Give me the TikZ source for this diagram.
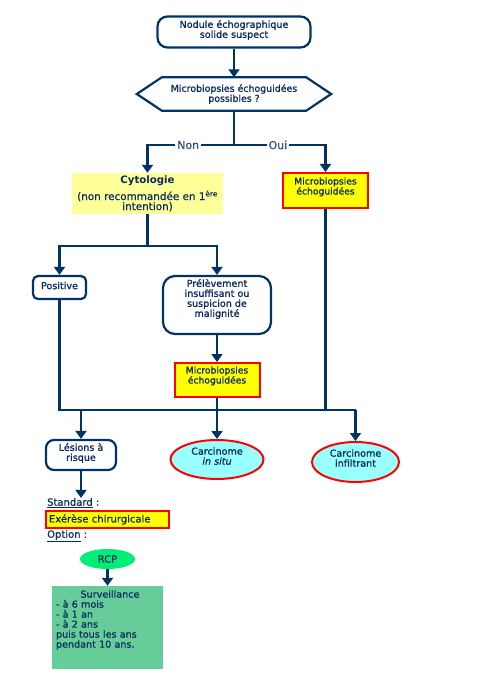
\documentclass[tikz,border=0pt]{standalone}
\usepackage{fontspec}
\setmainfont{DejaVu Sans}
\newfontfamily\bxfont[FakeBold=1.1]{DejaVu Sans}
\newfontfamily\rgfont[FakeBold=0.6]{DejaVu Sans}
\usetikzlibrary{arrows.meta,shapes.geometric,calc}
\definecolor{navy}{HTML}{003366}
\definecolor{txt}{HTML}{0B2B5C}
\definecolor{lblc}{HTML}{34507C}
\definecolor{lyel}{HTML}{FFFF99}
\definecolor{yel}{HTML}{FFFF00}
\definecolor{cyanf}{HTML}{99FFFF}
\definecolor{rcpc}{HTML}{00EE77}
\definecolor{survc}{HTML}{66CC99}
\newcommand\lowpad[1]{\rule[-#1]{0pt}{#1}}
\begin{document}
\begin{tikzpicture}[x=1pt,y=-1pt,
  every node/.style={text=txt, inner sep=0pt, align=center, font=\bxfont\fontsize{9.6}{10}\selectfont},
  rbox/.style={draw=navy, line width=2.2pt, rounded corners=#1},
  rbox/.default=8pt,
  redbox/.style={draw=red, line width=2pt, fill=yel},
  redell/.style={ellipse, draw=red, line width=2pt, fill=cyanf},
  conn/.style={draw=navy, line width=2.2pt},
  arr/.style={conn, -{Triangle[length=8pt,width=11pt]}},
  lbl/.style={fill=white, text=lblc, inner xsep=2pt, inner ysep=1pt, font=\rgfont\fontsize{11}{11}\selectfont},
  plain/.style={font=\rgfont\fontsize{10}{10}\selectfont}
]
\fill[white] (0,0) rectangle (500,700);
\useasboundingbox (0,0) rectangle (500,700);

% top
\node[rbox=10pt, minimum width=153pt, minimum height=31pt] (n1) at (234,32) {Nodule échographique\\solide suspect\lowpad{6pt}};
\node[minimum width=144pt, minimum height=33pt, font=\bxfont\fontsize{9.4}{10}\selectfont] (q) at (234,94) {Microbiopsies échoguidées\\possibles ?};
\draw[conn, line join=miter] (q.north west) -- (q.north east) -- ($(q.east)+(25,0)$) -- (q.south east) -- (q.south west) -- ($(q.west)+(-25,0)$) -- cycle;
\draw[arr] (n1.south) -- (q.north);

% level 2
\node[fill=lyel, minimum width=151pt, minimum height=41pt, font=\rgfont\fontsize{10.4}{10}\selectfont] (cyto) at (147.5,193.5)
  {{\normalfont\bfseries\fontsize{10.2}{11}\selectfont Cytologie}\\[4pt](non recommandée en 1\textsuperscript{ère}\\intention)};
\node[redbox, minimum width=85pt, minimum height=35pt, font=\bxfont\fontsize{9.2}{10}\selectfont] (mb1) at (325.5,190.5) {Microbiopsies\\échoguidées\lowpad{9pt}};

\coordinate (s1) at (234,145);
\draw[conn] (q.south) -- (s1);
\draw[arr] (s1) -- node[lbl, pos=0.53]{Non} (s1 -| cyto) -- (cyto.north);
\draw[arr] (s1) -- node[lbl, pos=0.48]{Oui} (s1 -| mb1) -- (mb1.north);

% level 3
\node[rbox=5pt, minimum width=53pt, minimum height=23pt] (pos) at (59.5,287.5) {Positive\lowpad{4pt}};
\node[rbox=12pt, minimum width=108pt, minimum height=58pt] (prel) at (217,305) {Prélèvement\\insuffisant ou\\suspicion de\\malignité\lowpad{14pt}};
\coordinate (s2) at (147.5,246);
\draw[conn] (cyto.south) -- (s2);
\draw[arr] (s2) -- (s2 -| pos) -- (pos.north);
\draw[arr] (s2) -- (s2 -| prel) -- (prel.north);

\node[redbox, minimum width=85pt, minimum height=34pt, font=\bxfont\fontsize{9.2}{10}\selectfont] (mb2) at (217,380) {Microbiopsies\\échoguidées\lowpad{10pt}};
\draw[arr] (prel.south) -- (mb2.north);

% level 4
\node[rbox=8pt, minimum width=70pt, minimum height=30pt] (les) at (81,455) {Lésions à\\risque\lowpad{6pt}};
\node[redell, minimum width=93pt, minimum height=39pt] (cis) at (217,459.5) {Carcinome\\\textit{in situ}\lowpad{7pt}};
\node[redell, minimum width=87pt, minimum height=40pt] (inf) at (355.5,462) {Carcinome\\infiltrant\lowpad{8pt}};

\coordinate (jl) at (59.5,410);
\coordinate (jr) at (355.5,410);
\draw[conn] (pos.south) -- (jl) -- (jr);
\draw[conn] (mb1.south) -- (mb1.south |- jl);
\draw[arr] (jl -| les) -- (les.north);
\draw[arr] (mb2.south) -- (cis.north);
\draw[arr] (jr) -- (inf.north);

% bottom
\node[plain, anchor=west] (std) at (47,503) {\underline{Standard} :};
\draw[arr] (les.south) -- (les.south |- std.north);
\node[redbox, plain, anchor=west, text width=117pt, align=left, inner xsep=3pt, minimum height=17pt] (exe) at (45,519.5) {Exérèse chirurgicale};
\node[plain, anchor=west] (opt) at (47,536) {\underline{Option} :};
\node[ellipse, fill=rcpc, plain, minimum width=55pt, minimum height=20pt] (rcp) at (107.5,559) {RCP};
\node[fill=survc, font=\rgfont\fontsize{9.6}{10}\selectfont, text width=103pt, align=left, inner xsep=4pt, minimum height=83pt] (surv) at (107.5,627.5)
  {\makebox[103pt][c]{\hspace{5pt}Surveillance}\\- à 6 mois\\- à 1 an\\- à 2 ans\\puis tous les ans\\pendant 10 ans.\lowpad{17pt}};
\draw[arr] (rcp.south) -- (surv.north);
\end{tikzpicture}
\end{document}
